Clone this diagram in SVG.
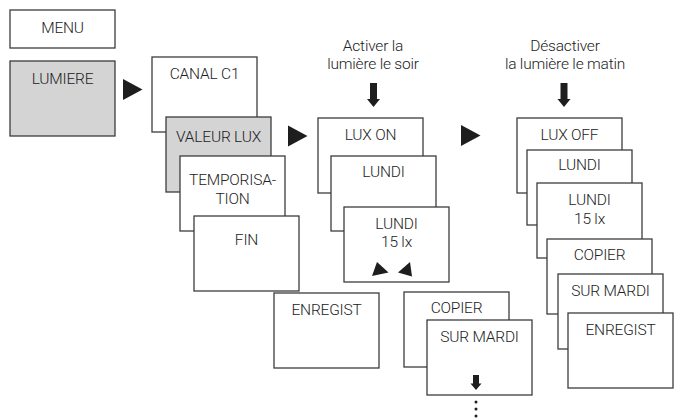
<svg xmlns="http://www.w3.org/2000/svg" width="679" height="418" viewBox="0 0 679 418">
  <style>
    .box { fill: #ffffff; stroke: #3c3c3c; stroke-width: 1.3; }
    .sel { fill: #d4d4d4; }
    text { font-family: Roboto, "Liberation Sans", sans-serif; font-weight: 300; font-size: 15.5px; letter-spacing: -0.2px; fill: #222222; text-anchor: middle; }
    .tri { fill: #1e1e1e; }
  </style>
  <defs>
    <!-- thick downward arrow, tip at origin -->
    <path id="down" d="M -3.5 -24 H 3.5 V -8 H 6.5 L 0 0 L -6.5 -8 H -3.5 Z"/>
    <!-- step arrow pointing right, left edge at origin -->
    <path id="step" d="M 0 -10.5 L 19.5 0 L 0 10.5 Z"/>
  </defs>

  <!-- menu column -->
  <g id="menu">
    <rect class="box" x="10" y="10" width="105" height="38"/>
    <text x="62.5" y="33">MENU</text>
  </g>
  <g id="lumiere">
    <rect class="box sel" x="10" y="61" width="105" height="75"/>
    <text x="62.5" y="84">LUMIERE</text>
  </g>

  <!-- channel submenu -->
  <g id="canal-c1">
    <rect class="box" x="152" y="57" width="105" height="75"/>
    <text x="204.5" y="79">CANAL C1</text>
  </g>
  <g id="valeur-lux">
    <rect class="box sel" x="166" y="117" width="105" height="75"/>
    <text x="218.5" y="141.5">VALEUR LUX</text>
  </g>
  <g id="temporisation">
    <rect class="box" x="180" y="156" width="105" height="75"/>
    <text x="232.5" y="185">TEMPORISA-</text>
    <text x="232.5" y="204">TION</text>
  </g>
  <g id="fin">
    <rect class="box" x="194" y="216" width="105" height="75"/>
    <text x="246.5" y="245">FIN</text>
  </g>

  <!-- evening switch-on sequence -->
  <g id="label-on">
    <text x="373" y="51">Activer la</text>
    <text x="373" y="69">lumière le soir</text>
  </g>
  <g id="lux-on">
    <rect class="box" x="318" y="118" width="105" height="75"/>
    <text x="370.5" y="140">LUX ON</text>
  </g>
  <g id="lundi-on">
    <rect class="box" x="331" y="156" width="105" height="75"/>
    <text x="383.5" y="177">LUNDI</text>
  </g>
  <g id="lundi-15lx-on">
    <rect class="box" x="344" y="207" width="105" height="75"/>
    <text x="396.5" y="229">LUNDI</text>
    <text x="396.5" y="247">15 lx</text>
    <path class="tri" d="M 377 262 L 388.5 272.5 L 372 276 Z"/>
    <path class="tri" d="M 410 262 L 412 276.5 L 398 272.5 Z"/>
  </g>
  <g id="enregist-on">
    <rect class="box" x="274" y="293" width="105" height="75"/>
    <text x="326.5" y="315">ENREGIST</text>
  </g>
  <g id="copier-on">
    <rect class="box" x="404" y="292" width="105" height="75"/>
    <text x="456.5" y="313">COPIER</text>
  </g>
  <g id="sur-mardi-on">
    <rect class="box" x="427" y="320" width="105" height="75"/>
    <text x="479.5" y="342">SUR MARDI</text>
  </g>

  <!-- morning switch-off sequence -->
  <g id="label-off">
    <text x="565" y="51">Désactiver</text>
    <text x="565" y="69">la lumière le matin</text>
  </g>
  <g id="lux-off">
    <rect class="box" x="517" y="118" width="105" height="75"/>
    <text x="569.5" y="140">LUX OFF</text>
  </g>
  <g id="lundi-off">
    <rect class="box" x="527" y="150" width="105" height="75"/>
    <text x="579.5" y="170">LUNDI</text>
  </g>
  <g id="lundi-15lx-off">
    <rect class="box" x="537" y="183" width="105" height="75"/>
    <text x="589.5" y="205">LUNDI</text>
    <text x="589.5" y="224">15 lx</text>
  </g>
  <g id="copier-off">
    <rect class="box" x="547" y="239" width="105" height="75"/>
    <text x="599.5" y="260">COPIER</text>
  </g>
  <g id="sur-mardi-off">
    <rect class="box" x="558" y="274" width="105" height="75"/>
    <text x="610.5" y="296">SUR MARDI</text>
  </g>
  <g id="enregist-off">
    <rect class="box" x="568" y="313" width="105" height="75"/>
    <text x="620.5" y="335">ENREGIST</text>
  </g>

  <!-- connectors -->
  <g id="connectors" class="tri">
    <use href="#step" x="123" y="89.5"/>
    <use href="#step" x="288" y="136"/>
    <use href="#step" x="461" y="135.5"/>
    <use href="#down" x="373.5" y="107"/>
    <use href="#down" x="564" y="107"/>
    <path d="M 473 375 H 479 V 383.5 H 481.5 L 476 390 L 470.5 383.5 H 473 Z"/>
    <circle cx="476" cy="402" r="1.5"/>
    <circle cx="476" cy="409" r="1.5"/>
    <circle cx="476" cy="416" r="1.5"/>
  </g>
</svg>
